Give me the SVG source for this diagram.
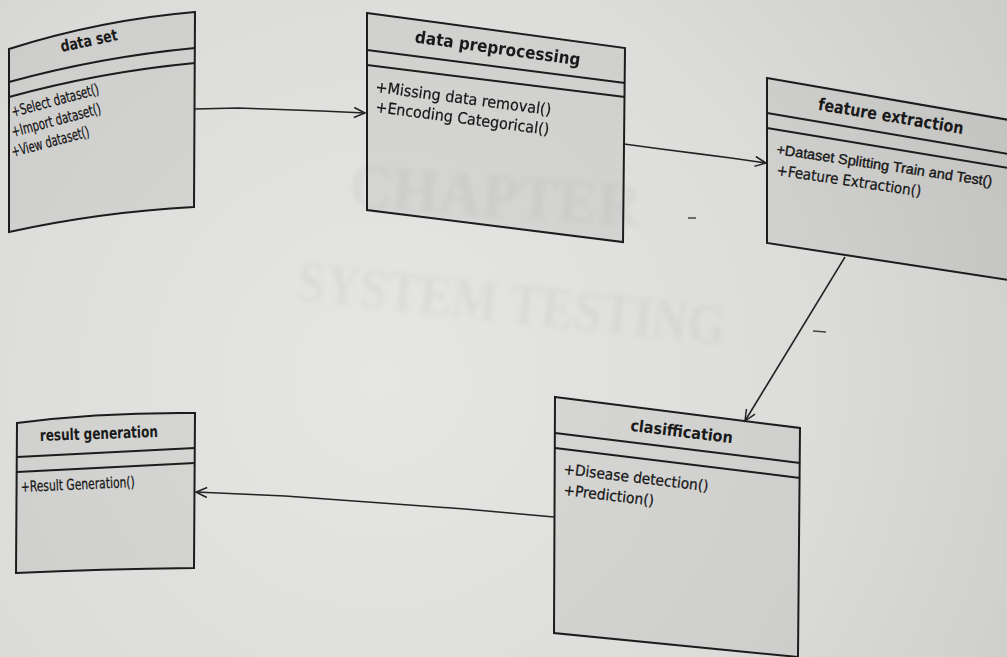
<svg xmlns="http://www.w3.org/2000/svg" width="1007" height="657" viewBox="0 0 1007 657">
  <defs>
    <radialGradient id="paper" cx="380" cy="380" r="720" gradientUnits="userSpaceOnUse">
      <stop offset="0" stop-color="#e6e6e4"/>
      <stop offset="0.6" stop-color="#dcdcda"/>
      <stop offset="1" stop-color="#cdcdcb"/>
    </radialGradient>
    <filter id="soft" x="-10%" y="-30%" width="120%" height="160%">
      <feGaussianBlur stdDeviation="2.5"/>
    </filter>
    <marker id="open" markerUnits="userSpaceOnUse" markerWidth="14" markerHeight="14" refX="12" refY="6" orient="auto">
      <path d="M1,1 L12,6 L1,11" fill="none" stroke="#222" stroke-width="1.5"/>
    </marker>
    <style>
      .box { fill: #000; fill-opacity: 0.055; stroke: #1c1c1c; stroke-width: 2; stroke-linejoin: miter; }
      .sep { fill: none; stroke: #1c1c1c; stroke-width: 2; }
      .title { font-family: "DejaVu Sans", "Liberation Sans", sans-serif; font-weight: bold; fill: #1a1a1a; text-anchor: middle; }
      .op { font-family: "DejaVu Sans", "Liberation Sans", sans-serif; fill: #151515; stroke: #151515; stroke-width: 0.25; }
      .op.narrow { font-family: "Liberation Sans", "DejaVu Sans", sans-serif; stroke-width: 0.35; }
      .link { fill: none; stroke: #222; stroke-width: 1.6; marker-end: url(#open); }
      .ghost { font-family: "Liberation Serif", serif; font-weight: bold; fill: #000; fill-opacity: 0.035; }
      .speck { stroke: #444; stroke-width: 1.5; }
    </style>
  </defs>

  <!-- page -->
  <rect width="1007" height="657" fill="url(#paper)"/>

  <!-- faint print from the following page -->
  <g filter="url(#soft)">
    <text class="ghost" x="348" y="206" font-size="62" textLength="292" lengthAdjust="spacingAndGlyphs" transform="rotate(4 348 206)">CHAPTER</text>
    <text class="ghost" x="296" y="300" font-size="56" textLength="430" lengthAdjust="spacingAndGlyphs" transform="rotate(6 296 300)">SYSTEM TESTING</text>
  </g>

  <!-- data set -->
  <g id="data-set">
    <path class="box" d="M9,49 Q100,20 195,12 L194,207 Q100,212 9,232 Z"/>
    <path class="sep" d="M9,82 Q100,57 195,48"/>
    <path class="sep" d="M9,97 Q100,72 195,63"/>
    <text class="title" x="90" y="46" font-size="16" textLength="58" lengthAdjust="spacingAndGlyphs" transform="rotate(-12 90 46)">data set</text>
    <text class="op" x="13" y="117" font-size="15" textLength="90" lengthAdjust="spacingAndGlyphs" transform="rotate(-15 13 117)">+Select dataset()</text>
    <text class="op" x="13" y="137" font-size="15" textLength="92" lengthAdjust="spacingAndGlyphs" transform="rotate(-15 13 137)">+Import dataset()</text>
    <text class="op" x="13" y="157" font-size="15" textLength="80" lengthAdjust="spacingAndGlyphs" transform="rotate(-15 13 157)">+View dataset()</text>
  </g>

  <!-- data preprocessing -->
  <g id="data-preprocessing">
    <polygon class="box" points="367,13 625,48 623,242 367,210"/>
    <line class="sep" x1="367" y1="50" x2="625" y2="83"/>
    <line class="sep" x1="367" y1="65" x2="625" y2="97"/>
    <text class="title" x="497" y="54" font-size="17" textLength="167" lengthAdjust="spacingAndGlyphs" transform="rotate(8 497 54)">data preprocessing</text>
    <text class="op" x="375" y="92" font-size="15.5" textLength="177" lengthAdjust="spacingAndGlyphs" transform="rotate(7.5 375 92)">+Missing data removal()</text>
    <text class="op" x="375" y="112" font-size="15.5" textLength="175" lengthAdjust="spacingAndGlyphs" transform="rotate(7.5 375 112)">+Encoding Categorical()</text>
  </g>

  <!-- feature extraction -->
  <g id="feature-extraction">
    <polygon class="box" points="767,78 1015,121 1015,281 767,243"/>
    <line class="sep" x1="767" y1="113" x2="1015" y2="155"/>
    <line class="sep" x1="767" y1="128" x2="1015" y2="169"/>
    <text class="title" x="890" y="122" font-size="17" textLength="147" lengthAdjust="spacingAndGlyphs" transform="rotate(9.5 890 122)">feature extraction</text>
    <text class="op narrow" x="776" y="154" font-size="14.2" textLength="218" lengthAdjust="spacingAndGlyphs" transform="rotate(8.5 776 154)">+Dataset Splitting Train and Test()</text>
    <text class="op" x="776" y="175" font-size="15" textLength="146" lengthAdjust="spacingAndGlyphs" transform="rotate(8.5 776 175)">+Feature Extraction()</text>
  </g>

  <!-- clasiffication -->
  <g id="clasiffication">
    <polygon class="box" points="555,397 800,428 798,657 554,633"/>
    <line class="sep" x1="555" y1="433" x2="800" y2="463"/>
    <line class="sep" x1="555" y1="448" x2="800" y2="478"/>
    <text class="title" x="681" y="437" font-size="16" textLength="103" lengthAdjust="spacingAndGlyphs" transform="rotate(7 681 437)">clasiffication</text>
    <text class="op" x="563" y="474" font-size="15" textLength="146" lengthAdjust="spacingAndGlyphs" transform="rotate(6.8 563 474)">+Disease detection()</text>
    <text class="op" x="563" y="495" font-size="15" textLength="91" lengthAdjust="spacingAndGlyphs" transform="rotate(6.8 563 495)">+Prediction()</text>
  </g>

  <!-- result generation -->
  <g id="result-generation">
    <path class="box" d="M17,423 Q100,412 195,413 L194,568 Q100,569 16,573 Z"/>
    <line class="sep" x1="17" y1="457" x2="195" y2="448"/>
    <line class="sep" x1="17" y1="472" x2="195" y2="463"/>
    <text class="title" x="99" y="439" font-size="16" textLength="118" lengthAdjust="spacingAndGlyphs" transform="rotate(-2 99 439)">result generation</text>
    <text class="op" x="21" y="492" font-size="15" textLength="114" lengthAdjust="spacingAndGlyphs" transform="rotate(-2.5 21 492)">+Result Generation()</text>
  </g>

  <!-- associations -->
  <g id="connectors">
    <path class="link" d="M195,109 L238,108 L322,111 L365,113"/>
    <path class="link" d="M624,144 L661,149 L731,158 L766,163"/>
    <path class="link" d="M845,257 L745,421"/>
    <path class="link" d="M554,517 L465,509 L285,496 L196,492"/>
  </g>

  <!-- stray marks on the sheet -->
  <line class="speck" x1="688" y1="218" x2="696" y2="218"/>
  <line class="speck" x1="813" y1="331" x2="826" y2="332"/>
</svg>
